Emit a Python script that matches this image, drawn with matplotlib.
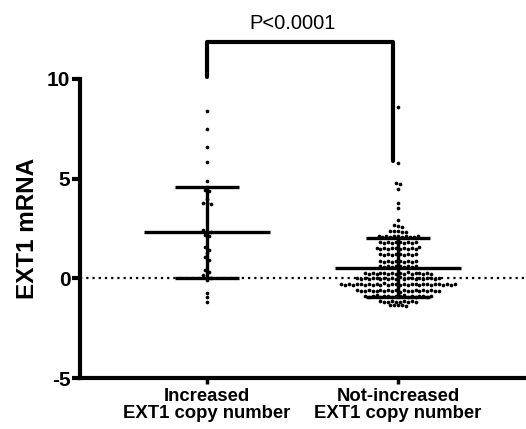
import numpy as np
import matplotlib.pyplot as plt

plt.rcParams['font.family'] = ['Liberation Sans', 'DejaVu Sans']

categories = ['Increased\nEXT1 copy number', 'Not-increased\nEXT1 copy number']

increased = [8.4, 7.5, 6.6, 5.85, 4.9, 4.45, 4.4, 4.0, 3.8, 3.8, 3.75,
             2.4, 2.3, 2.3, 2.15, 2.1, 1.55, 1.4, 1.25, 1.05, 0.9,
             0.4, 0.3, 0.15, 0.05, 0.0, -0.1, -0.75, -0.95, -1.2]

not_increased = [
    8.6, 5.8, 4.8, 4.72, 4.5, 3.8, 3.55, 2.92, 2.68, 2.62, 2.6,
    2.38, 2.35, 2.36, 2.32, 2.34,
    2.12, 2.08, 2.1, 2.06, 2.13, 2.1, 2.07, 2.11, 2.05, 2.09, 2.14,
    1.82, 1.78, 1.8, 1.76, 1.84, 1.8, 1.77, 1.83, 1.79, 1.81,
    1.52, 1.48, 1.5, 1.46, 1.54, 1.5, 1.47, 1.53, 1.49, 1.51, 1.45, 1.55,
    1.22, 1.18, 1.2, 1.16, 1.24, 1.2, 1.17, 1.23, 1.19, 1.21,
    0.87, 0.83, 0.85, 0.81, 0.89, 0.85, 0.82, 0.88, 0.84, 0.86,
    0.62, 0.58, 0.6, 0.56, 0.64, 0.6, 0.57, 0.63, 0.59, 0.61,
    0.27, 0.23, 0.25, 0.21, 0.29, 0.25, 0.22, 0.28, 0.24, 0.26, 0.2, 0.3,
    0.23, 0.27, 0.25, 0.22, 0.28, 0.24,
    0.02, -0.02, 0.0, -0.04, 0.04, 0.0, -0.03, 0.03, -0.01, 0.01, -0.05,
    0.05, -0.02, 0.02, 0.0, -0.03, 0.03, -0.01, 0.01, 0.04, -0.04, 0.0,
    -0.28, -0.32, -0.3, -0.34, -0.26, -0.3, -0.33, -0.27, -0.31, -0.29,
    -0.35, -0.25, -0.32, -0.28, -0.3, -0.33, -0.27, -0.31, -0.29, -0.26,
    -0.34, -0.3, -0.28, -0.32, -0.3, -0.27, -0.33, -0.29, -0.31, -0.3,
    -0.6, -0.64, -0.62, -0.58, -0.66, -0.62, -0.59, -0.65, -0.61, -0.63,
    -0.57, -0.67, -0.6, -0.64, -0.62, -0.59, -0.65, -0.61, -0.63, -0.6,
    -0.64, -0.62,
    -0.88, -0.92, -0.9, -0.86, -0.94, -0.9, -0.87, -0.93, -0.89, -0.91,
    -0.85, -0.95, -0.88, -0.92, -0.9, -0.87, -0.93, -0.9,
    -1.15, -1.19, -1.17, -1.13, -1.21, -1.17, -1.14, -1.2, -1.16, -1.18,
    -1.33, -1.36, -1.35, -1.34, -1.37]

means = [2.3, 0.52]
sds = [2.3, 1.48]
p_text = 'P<0.0001'

fig = plt.figure(figsize=(5.26, 4.29), dpi=100)
ax = fig.add_axes([80 / 526, 51 / 429, 446 / 526, 299 / 429])
ax.set_xlim(-0.665, 1.67)
ax.set_ylim(-5, 10)

# pixels per data unit along x, for spreading the rows
sx = ax.transData.transform((1, 0))[0] - ax.transData.transform((0, 0))[0]


def row_offsets(vals, h=0.18, dx=3.9):
    # GraphPad-like layout: points within h of a row's top share a row
    order = np.argsort(vals, kind='stable')[::-1]
    offs = np.zeros(len(vals))
    rows = []
    for i in order:
        if rows and rows[-1][0] - vals[i] < h:
            rows[-1][1].append(i)
        else:
            rows.append((vals[i], [i]))
    for _, idx in rows:
        n = len(idx)
        # keep the typed order for the positions inside the row
        idx = sorted(idx)
        for j, i in enumerate(idx):
            offs[i] = (j - (n - 1) / 2) * dx / sx
    return offs


ax.axhline(0, color='black', lw=1.6, ls=(0, (1, 1.8)), zorder=1)

for i, vals in enumerate([increased, not_increased]):
    vals = np.array(vals)
    xo = row_offsets(vals)
    ax.scatter(i + xo, vals, s=7, color='black', zorder=2, linewidths=0)
    m, s = means[i], sds[i]
    ax.plot([i - 0.33, i + 0.33], [m, m], color='black', lw=2.4, zorder=3, solid_capstyle='butt')
    ax.plot([i - 0.17, i + 0.17], [m + s, m + s], color='black', lw=2.4, zorder=3, solid_capstyle='butt')
    ax.plot([i - 0.17, i + 0.17], [m - s, m - s], color='black', lw=2.4, zorder=3, solid_capstyle='butt')
    ax.plot([i, i], [m - s, m + s], color='black', lw=2.4, zorder=3)

# significance bracket
ax.plot([0, 0, 0.975, 0.975], [10.1, 11.85, 11.85, 5.9], color='black', lw=3,
        clip_on=False, solid_joinstyle='round', solid_capstyle='round')
ax.text(0.45, 12.3, p_text, ha='center', va='bottom', fontsize=14.5, clip_on=False)

for side in ['top', 'right']:
    ax.spines[side].set_visible(False)
for side in ['left', 'bottom']:
    ax.spines[side].set_linewidth(3)

ax.set_yticks([-5, 0, 5, 10])
ax.set_yticklabels(['-5', '0', '5', '10'], fontsize=15, fontweight='bold')
ax.set_xticks([0, 1])
ax.set_xticklabels(categories, fontsize=13.3, fontweight='bold', linespacing=1.0)
ax.tick_params(axis='y', length=6, width=3, pad=1)
ax.tick_params(axis='x', length=4.5, width=2.5, pad=3)
ax.set_ylabel('EXT1 mRNA', fontsize=17.5, fontweight='bold', labelpad=6)

fig.savefig('out.png', dpi=100)
